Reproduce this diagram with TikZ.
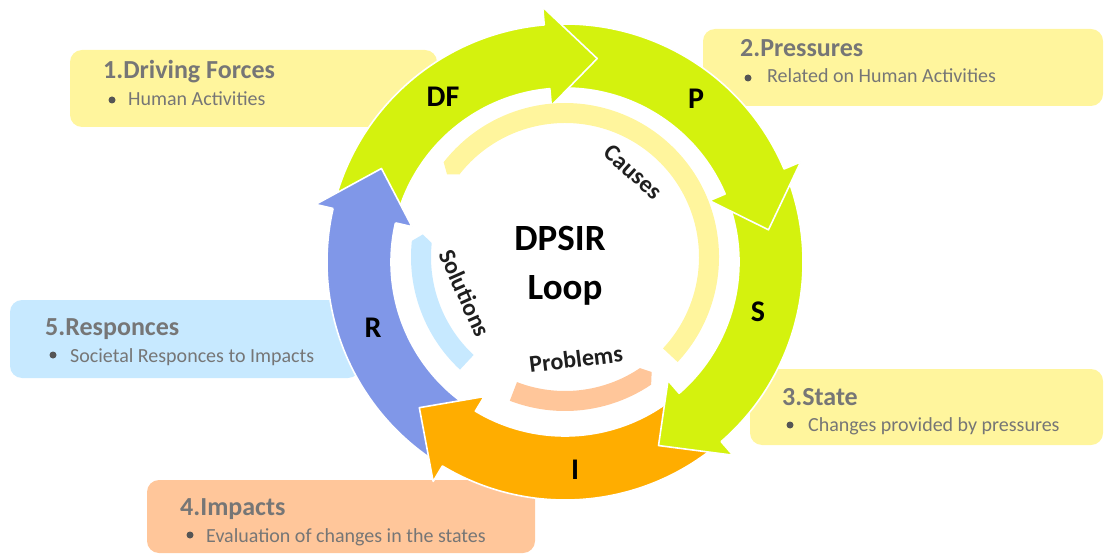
\documentclass[tikz,border=0pt]{standalone}
\usepackage{fontspec}
\setmainfont{Carlito}
\definecolor{lime}{RGB}{212,242,14}
\definecolor{orng}{RGB}{255,173,0}
\definecolor{blu}{RGB}{128,151,232}
\definecolor{ylw}{RGB}{255,245,157}
\definecolor{lblu}{RGB}{199,233,255}
\definecolor{peach}{RGB}{255,198,154}
\definecolor{txtgray}{RGB}{118,118,118}
\definecolor{dotgray}{RGB}{85,85,85}
\tikzset{
  boxttl/.style={anchor=base west, text=txtgray, font=\fontsize{26}{30}\selectfont\bfseries, inner sep=0},
  boxtxt/.style={anchor=base west, text=txtgray, font=\fontsize{20}{24}\selectfont, inner sep=0},
  bulletdot/.style={circle, fill=dotgray, minimum size=7, inner sep=0},
  ringlbl/.style={font=\fontsize{30}{34}\selectfont\bfseries, text=black, inner sep=0},
  arclbl/.style={font=\fontsize{24}{28}\selectfont\bfseries, text=black!88, inner sep=0},
  centerlbl/.style={font=\fontsize{37}{40}\selectfont\bfseries, text=black, inner sep=0, anchor=base},
  outline/.style={draw=white, line width=1.6, line join=round},
  infobox/.style={rounded corners=12},
  ringarrow/.style n args={3}{insert path={(#1:238) arc[start angle=#1, end angle=#2, radius=238] -- (#2:256) -- (#3:206) -- (#2:157) -- (#2:174) arc[start angle=#2, end angle=#1, radius=174]}},
  band/.style n args={3}{insert path={(#1:154) arc[start angle=#1, end angle=#2, radius=154] -- (#3:144) -- (#2:134) arc[start angle=#2, end angle=#1, radius=134] -- cycle}}
}
\begin{document}
\begin{tikzpicture}[x=1pt,y=1pt]
\useasboundingbox (0,0) rectangle (1105,555);
% info boxes
\fill[ylw, infobox] (70,428) rectangle (437,505);
\fill[ylw, infobox] (703,449) rectangle (1103,526);
\fill[ylw, infobox] (750,110) rectangle (1103,186);
\fill[peach, infobox] (147,2) rectangle (535,75);
\fill[lblu, infobox] (10,177) rectangle (360,255);

\node[boxttl] (t1) at (103,476) {1.Driving Forces};
\node[bulletdot] (d1) at (112,455) {};
\node[boxtxt] (b1) at (128,449) {Human Activities};

\node[boxttl] (t2) at (740,498) {2.Pressures};
\node[bulletdot] (d2) at (748,477) {};
\node[boxtxt] (b2) at (767,472) {Related on Human Activities};

\node[boxttl] (t3) at (782,150) {3.State};
\node[bulletdot] (d3) at (790,130) {};
\node[boxtxt] (b3) at (808,124) {Changes provided by pressures};

\node[boxttl] (t4) at (180,40) {4.Impacts};
\node[bulletdot] (d4) at (190,20) {};
\node[boxtxt] (b4) at (206,13) {Evaluation of changes in the states};

\node[boxttl] (t5) at (45,220) {5.Responces};
\node[bulletdot] (d5) at (53,200) {};
\node[boxtxt] (b5) at (70,193) {Societal Responces to Impacts};

% ring arrows
\begin{scope}[shift={(565,293)}]
  \path[fill=blu, outline, ringarrow={-124}{-193}{-207}];
  \path[fill=orng, outline, ringarrow={-52}{-121}{-135}];
  \path[fill=lime, outline, ringarrow={20}{-49}{-63}];
  \path[fill=lime, outline, ringarrow={92}{23}{9}];
  \path[fill=lime, outline, ringarrow={164}{95}{81}];
  \path[fill=blu, outline] (167:238) -- (167:256) -- (153:206) -- (167:157) -- (167:174);
\end{scope}

% inner bands
\begin{scope}[shift={(565,298)}]
  \fill[ylw, band={-43}{142}{145}];
  \fill[lblu, band={227}{174}{171}];
  \fill[peach, band={-111}{-56}{-53}];
\end{scope}

% ring labels
\node[ringlbl] (lDF) at (443,458) {DF};
\node[ringlbl] (lP) at (696,456) {P};
\node[ringlbl] (lS) at (758,243) {S};
\node[ringlbl] (lI) at (575,85) {I};
\node[ringlbl] (lR) at (373,227) {R};

% inner labels
\node[arclbl, rotate=-42] (causes) at (633,383) {Causes};
\node[arclbl, rotate=-66] (solutions) at (465,262) {Solutions};
\node[arclbl, rotate=7] (problems) at (576,196) {Problems};

\node[centerlbl] (dpsir) at (560,305) {DPSIR};
\node[centerlbl] (loop) at (565,256) {Loop};
\end{tikzpicture}
\end{document}
